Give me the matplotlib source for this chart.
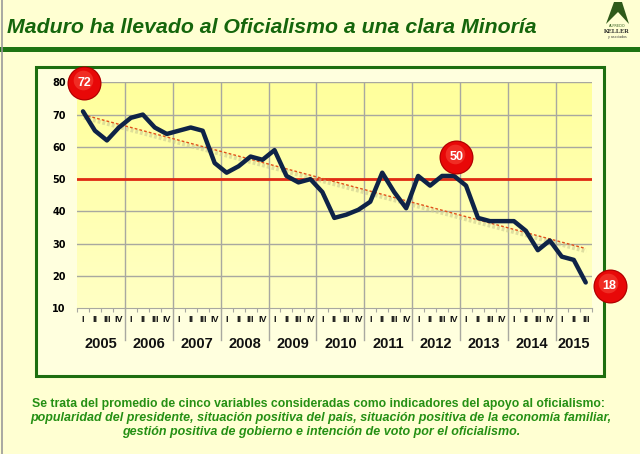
import numpy as np
import matplotlib
matplotlib.use("Agg")
import matplotlib.pyplot as plt
import matplotlib.patheffects as pe
from matplotlib.patches import Rectangle, Polygon

# datos: promedio trimestral de apoyo al oficialismo (2005 I - 2015 III)
years = ["2005", "2006", "2007", "2008", "2009", "2010",
         "2011", "2012", "2013", "2014", "2015"]
quarters = ["I", "II", "III", "IV"]
apoyo = [71, 65, 62, 66,  69, 70, 66, 64,  65, 66, 65, 55,
         52, 54, 57, 56,  59, 51, 49, 50,  46, 38, 39, 40.5,
         43, 52, 46, 41,  51, 48, 51, 51,  48, 38, 37, 37,
         37, 34, 28, 31,  26, 25, 18]
callouts = ["72", "50", "18"]

W, H = 640, 454
fig = plt.figure(figsize=(6.4, 4.54), dpi=100)
fig.patch.set_facecolor("#FFFFD2")

def px_axes(l, t, r, b):
    return [l / W, 1 - b / H, (r - l) / W, (b - t) / H]

bg = fig.add_axes([0, 0, 1, 1])
bg.set_xlim(0, W)
bg.set_ylim(H, 0)
bg.axis("off")
bg.plot([1.5, 1.5], [0, H], color="#9a9a9a", lw=1.2)
bg.add_patch(Rectangle((0, 47), W, 5, color="#1E7412", lw=0))
bg.add_patch(Rectangle((36, 67), 568, 309, facecolor="#FFFFDE",
                       edgecolor="#1E6E10", lw=2.2))
bg.text(7, 33, "Maduro ha llevado al Oficialismo a una clara Minoría",
        fontsize=15.3, fontweight="bold", fontstyle="italic",
        color="#15660C", family="Liberation Sans", va="baseline")

# logo
bg.add_patch(Polygon([[606, 24], [614, 2], [622, 2], [629, 24], [618, 12]],
                     closed=True, color="#2F5A1A", lw=0))
bg.text(617, 27, "ALFREDO", fontsize=2.5, ha="center", color="#2F5A1A")
bg.text(617, 33, "KELLER", fontsize=4.5, ha="center", fontweight="bold",
        color="#222222", family="Liberation Serif")
bg.text(617, 38, "y asociados", fontsize=2.3, ha="center", color="#333333")

foot = "#259014"
bg.text(318, 407.5, "Se trata del promedio de cinco variables consideradas como indicadores del apoyo al oficialismo:",
        ha="center", va="baseline", fontsize=8.8, fontweight="bold", color=foot,
        family="Liberation Sans")
bg.text(321, 421, "popularidad del presidente, situación positiva del país, situación positiva de la economía familiar,",
        ha="center", va="baseline", fontsize=9.0, fontweight="bold", fontstyle="italic",
        color=foot, family="Liberation Sans")
bg.text(321, 434.5, "gestión positiva de gobierno e intención de voto por el oficialismo.",
        ha="center", va="baseline", fontsize=9.0, fontweight="bold", fontstyle="italic",
        color=foot, family="Liberation Sans")

# area del grafico
ax = fig.add_axes(px_axes(77, 82.3, 591.7, 308.3))
n = len(apoyo)
x = np.arange(n)
ax.set_xlim(-0.5, n - 0.5)
ax.set_ylim(10, 80)

grad = np.linspace(1, 0, 100).reshape(-1, 1)
ax.imshow(grad, extent=[-0.5, n - 0.5, 10, 80], aspect="auto", origin="lower",
          cmap=matplotlib.colors.LinearSegmentedColormap.from_list(
              "amarillo", ["#FFFF9C", "#FFFFC4"]), zorder=0)

for v in range(20, 81, 10):
    ax.axhline(v, color="#A8A8A0", lw=1, zorder=1)
year_edges = np.arange(3.5, n - 1, 4)
for e in year_edges:
    ax.axvline(e, color="#A8A8A0", lw=1, zorder=1)
    ax.plot([e, e], [10, 0.2], color="#A8A8A0", lw=1, clip_on=False, zorder=1)

for s in ["top", "right"]:
    ax.spines[s].set_visible(False)
ax.spines["left"].set_visible(False)
ax.spines["bottom"].set_color("#A8A8A0")

ax.axhline(50, color="#E02A12", lw=2, zorder=3)

coef = np.polyfit(x, apoyo, 1)
ax.plot([x[0], x[-1]], np.polyval(coef, [x[0], x[-1]]), color="#E0501A",
        lw=1, ls=(0, (2, 1.5)), zorder=3,
        path_effects=[pe.SimpleLineShadow(offset=(0.5, -2), shadow_color="#C8C890",
                                          alpha=0.6, linewidth=3), pe.Normal()])

ax.plot(x, apoyo, color="#0E2347", lw=3.2, solid_joinstyle="round",
        solid_capstyle="round", zorder=4)

ax.set_yticks(range(10, 81, 10))
ax.tick_params(axis="y", length=0, pad=8, labelsize=7)
for lab in ax.get_yticklabels():
    lab.set_fontweight("bold")
ax.set_xticks(np.arange(-0.5, n, 1))
ax.set_xticklabels([])
ax.tick_params(axis="x", length=3, color="#A8A8A0", direction="out")

qlabels = [quarters[i % 4] for i in range(n)]
for i, q in enumerate(qlabels):
    ax.text(i, 6.4, q, ha="center", va="center", fontsize=6.5, fontweight="bold",
            family="Liberation Sans", color="#111111", clip_on=False)
for k, yr in enumerate(years):
    start = 4 * k
    stop = min(4 * k + 4, n)
    ax.text((start + stop - 1) / 2, -1.2, yr, ha="center", va="center",
            fontsize=10.5, fontweight="bold", family="Liberation Sans",
            color="#111111", clip_on=False)

# circulos rojos
cx = [0.1, 31.2, 44.0]
cy = [79.9, 57.0, 16.9]
ax.scatter(cx, cy, s=600, color="#B00000", zorder=6, clip_on=False, lw=0)
ax.scatter(cx, cy, s=520, color="#E80808", zorder=7, clip_on=False, lw=0)
ax.scatter(np.array(cx) - 0.1, np.array(cy) + 0.9, s=200, color="#F85040",
           alpha=0.5, zorder=7, clip_on=False, lw=0)
for xx, yy, t in zip(cx, cy, callouts):
    ax.text(xx, yy, t, ha="center", va="center", color="white", fontsize=9,
            fontweight="bold", family="Liberation Sans", zorder=8)

fig.savefig("out.png", dpi=100, facecolor=fig.get_facecolor())
